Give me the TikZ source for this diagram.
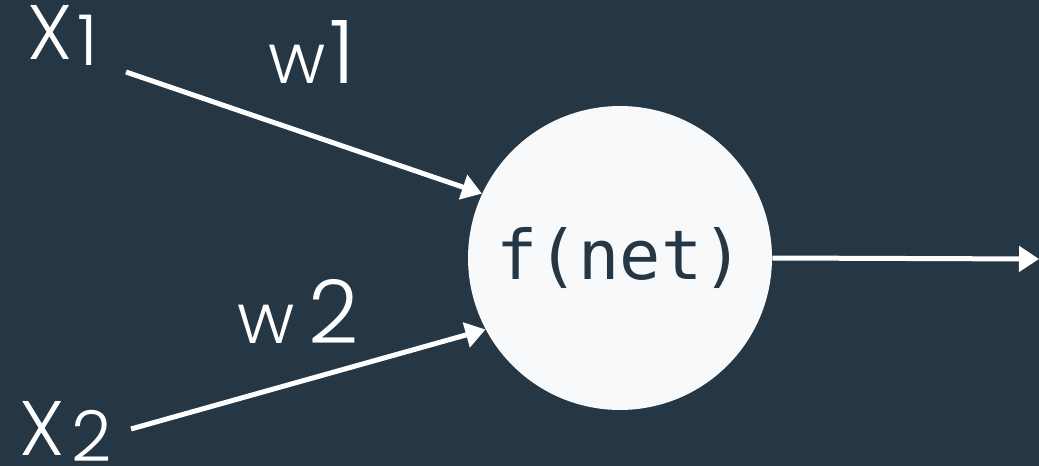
\documentclass[tikz,border=0pt]{standalone}
\usepackage{fontspec}
\usepackage{tikz}
\usetikzlibrary{arrows.meta, positioning}
\newfontfamily\lblfont{Poppins Light}
\newfontfamily\monofont{DejaVu Sans Mono}
\definecolor{slate}{RGB}{37,54,69}
\definecolor{paper}{RGB}{248,249,250}

\begin{document}
\begin{tikzpicture}[x=0.02cm, y=-0.02cm,
    wire/.style={draw=white, line width=0.1cm, -{Triangle[length=0.4cm, width=0.5cm]}},
    lbl/.style={text=white, inner sep=0pt, anchor=base west, font=\lblfont}]
  \fill[slate] (0,0) rectangle (1039,466);
  \useasboundingbox (0,0) rectangle (1039,466);
  % the unit
  \node[circle, fill=paper, minimum size=6.08cm, inner sep=0pt,
        text=slate, font=\monofont\fontsize{39}{42}\selectfont] (neuron) at (620,258) {f(net)};
  % inputs and weights
  \node[lbl] (x1) at (27,60)
    {\fontsize{44}{48}\selectfont X\hspace{3pt}\raisebox{-0.12cm}{\fontsize{40}{44}\selectfont 1}};
  \node[lbl] (x2) at (19,455)
    {\fontsize{44}{48}\selectfont X\hspace{4pt}\raisebox{-0.14cm}{\fontsize{40}{44}\selectfont 2}};
  \node[lbl] (w1) at (268,84) {\fontsize{40}{44}\selectfont w\hspace{2pt}{\fontsize{50}{54}\selectfont 1}};
  \node[lbl] (w2) at (237,343) {\fontsize{40}{44}\selectfont w\hspace{8pt}{\fontsize{50}{54}\selectfont 2}};
  \coordinate (in1) at (126,72);
  \coordinate (in2) at (131,429);
  \coordinate (out) at (1039,259);
  \draw[wire] (in1) -- (neuron.155);
  \draw[wire] (in2) -- (neuron.208);
  \draw[wire] (neuron.east) -- (out);
\end{tikzpicture}
\end{document}
